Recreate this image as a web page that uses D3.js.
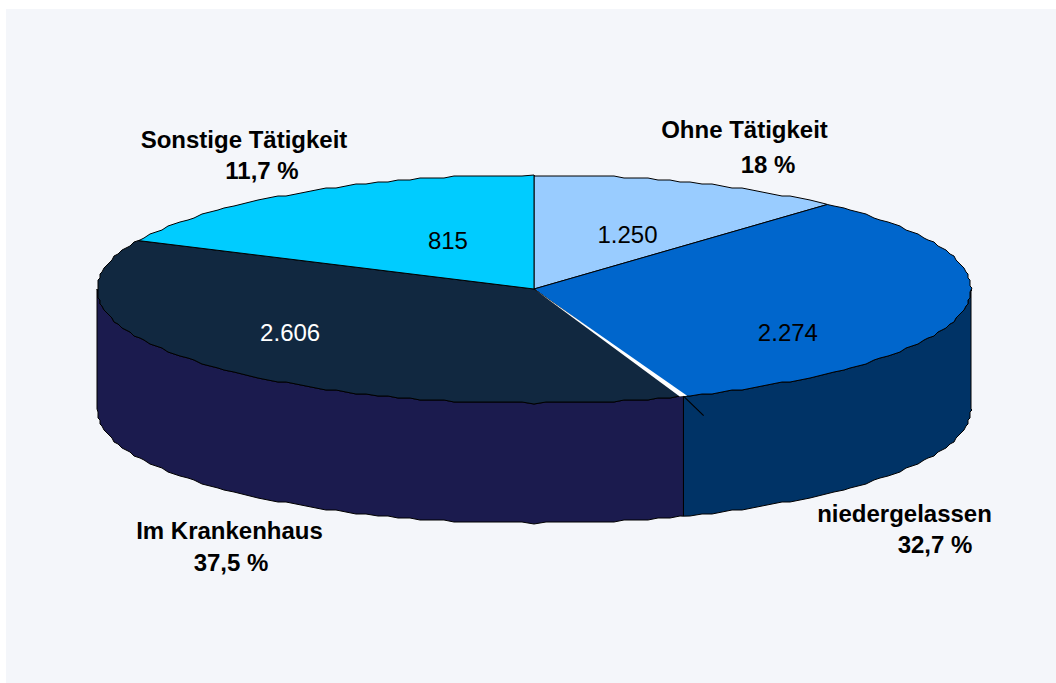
<!DOCTYPE html>
<html><head><meta charset="utf-8">
<script src="https://cdn.jsdelivr.net/npm/d3@7"></script>
<style>html,body{margin:0;padding:0;background:#fff}svg{display:block}text{font-family:"Liberation Sans",Arial,sans-serif}</style>
</head><body><svg id="c" width="1056" height="683"></svg>
<script>
const categories=["Ohne Tätigkeit","niedergelassen","Im Krankenhaus","Sonstige Tätigkeit"];
const counts=["1.250","2.274","2.606","815"];
const percentLabels=["18 %","32,7 %","37,5 %","11,7 %"];
const drawnShares=[11.7,32.7,37.5,18.0];
const topColors=["#99CCFF","#0066CC","#112840","#00CCFF"];
const sideColors=["#99CCFF","#003366","#1B1B4E","#00CCFF"];
const countColors=["#000","#000","#fff","#000"];
const countPos=[[.214,.47],[.581,-.39],[-.558,-.39],[-.197,.42]];
const catPos=[[744.5,137],[904.5,521],[229.5,538],[244,147]];
const pctPos=[[768,172],[935,552],[231,570],[262,178]];

const cx=534,cy=289,rx=437,ry=114,depth=120;
const X=d3.scaleLinear().domain([-1,1]).range([cx-rx,cx+rx]);
const Y=d3.scaleLinear().domain([-1,1]).range([cy+ry,cy-ry]);
const svg=d3.select("#c");
svg.append("rect").attr("x",6).attr("y",9).attr("width",1050).attr("height",674).attr("fill","#F4F6FA");
const arcs=d3.pie().sort(null).value(d=>d)(drawnShares);
const px=(a,r=1)=>[X(r*Math.sin(a)),Y(r*Math.cos(a))];
const STEP=Math.PI/120;
// The original rim is a finely stepped polygon snapped to a pixel grid
const snap=p=>[Math.round(p[0]/2)*2,Math.round(p[1]/2)*2];
function rim(a0,a1){const p=[px(a0)];let a=Math.ceil(a0/STEP)*STEP;for(;a<a1;a+=STEP)p.push(snap(px(a)));p.push(px(a1));return p;}
const line=d3.line();
arcs.forEach((d,i)=>{
  const a0=Math.max(d.startAngle,Math.PI/2),a1=Math.min(d.endAngle,3*Math.PI/2);
  if(a1<=a0)return;
  const t=rim(a0,a1),b=t.slice().reverse().map(p=>[p[0],p[1]+depth]);
  svg.append("path").attr("d",line(t.concat(b))+"Z").attr("fill",sideColors[i]).attr("stroke","#000").attr("stroke-width",1);
});
arcs.forEach((d,i)=>{
  const pts=[[X(0),Y(0)]].concat(rim(d.startAngle,d.endAngle));
  svg.append("path").attr("d",line(pts)+"Z").attr("fill",topColors[i]).attr("stroke","#000").attr("stroke-width",1);
});
const seam=arcs[1].endAngle;
svg.append("path").attr("d",line([[X(0),Y(0)],px(seam-0.009),px(seam+0.009)])+"Z").attr("fill","#fff");
const s0=px(seam),s1=px(seam,1.135);
svg.append("path").attr("d",line([s0,[s1[0],s1[1]+5]])).attr("stroke","#000").attr("stroke-width",1.2).attr("fill","none");
const fs=24;
categories.forEach((c,i)=>{
  svg.append("text").attr("x",catPos[i][0]).attr("y",catPos[i][1]+1).attr("text-anchor","middle").attr("font-size",fs).attr("font-weight","700").text(c);
  svg.append("text").attr("x",pctPos[i][0]).attr("y",pctPos[i][1]+1).attr("text-anchor","middle").attr("font-size",fs).attr("font-weight","700").text(percentLabels[i]);
  svg.append("text").attr("x",X(countPos[i][0])).attr("y",Y(countPos[i][1])+8).attr("text-anchor","middle").attr("font-size",fs).attr("fill",countColors[i]).text(counts[i]);
});
</script></body></html>
